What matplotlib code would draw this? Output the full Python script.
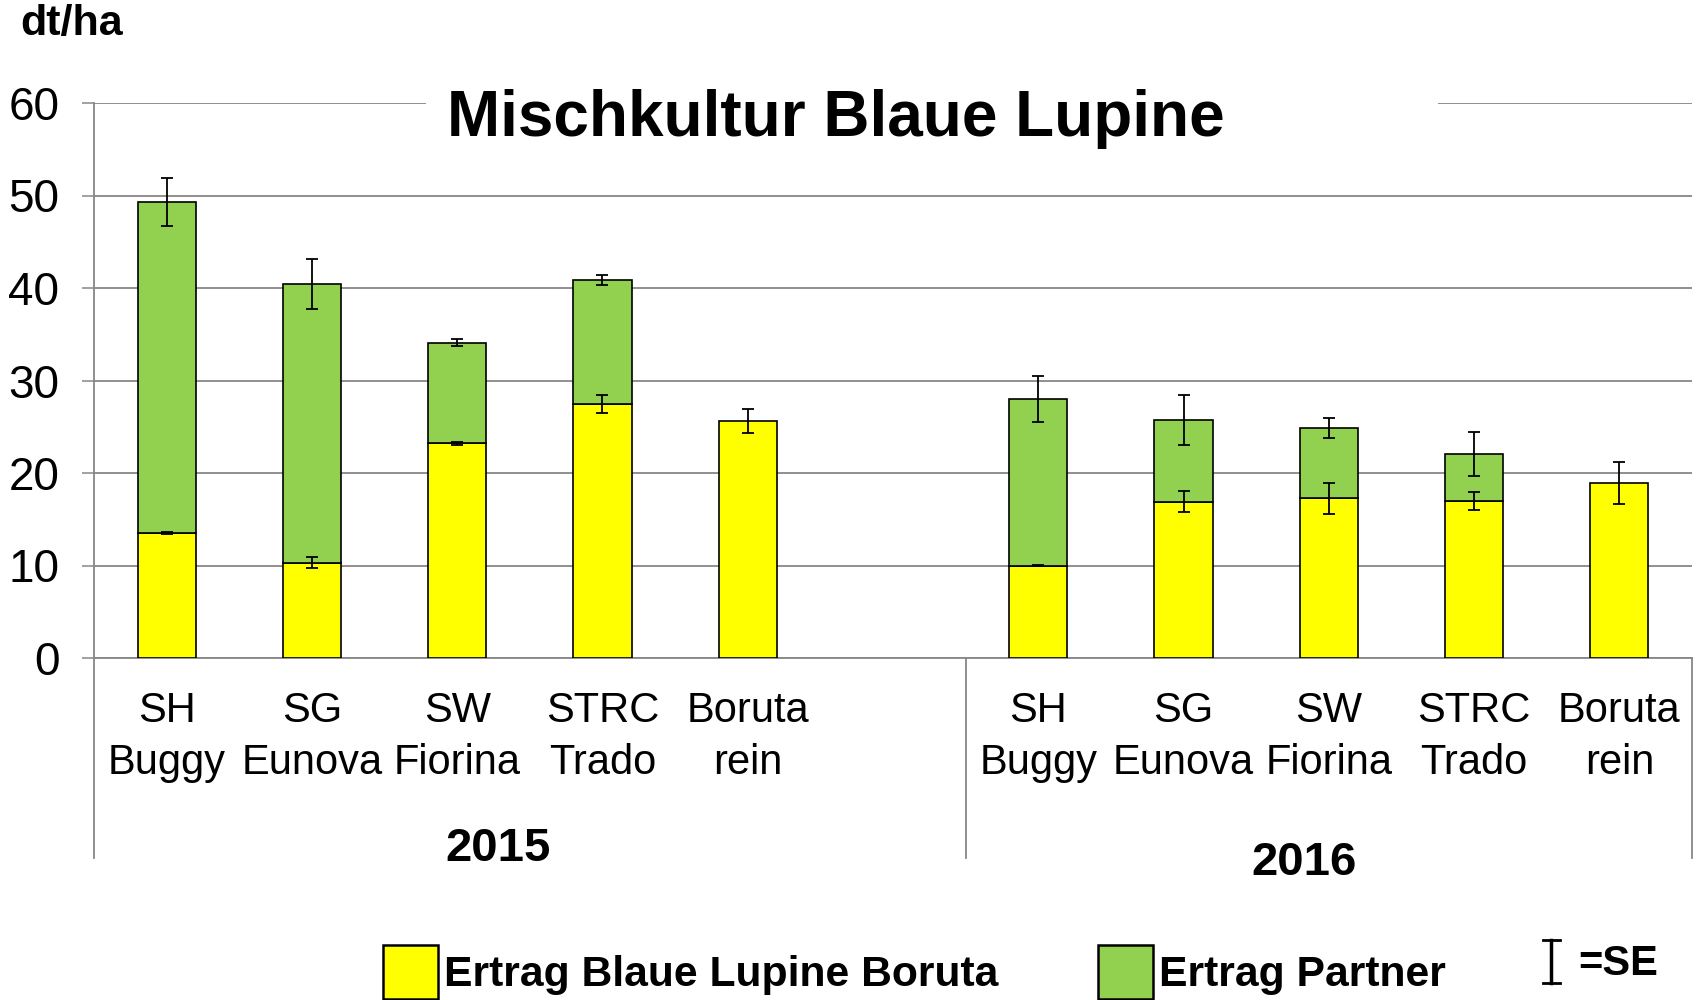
import numpy as np
import matplotlib
matplotlib.use("Agg")
import matplotlib.pyplot as plt
from matplotlib.patches import Rectangle
from matplotlib.lines import Line2D
import matplotlib.transforms as mtransforms

# ---------------------------------------
# Data (dt/ha)
# ---------------------------------------
categories = ["SH\nBuggy", "SG\nEunova", "SW\nFiorina", "STRC\nTrado", "Boruta\nrein"]
years = ["2015", "2016"]

lupine_2015 = [13.5, 10.3, 23.2, 27.45, 25.6]
partner_2015 = [35.8, 30.1, 10.9, 13.4, 0.0]
lupine_se_2015 = [0.12, 0.6, 0.2, 1.0, 1.3]
total_se_2015 = [2.6, 2.7, 0.4, 0.55, 0.0]

lupine_2016 = [10.0, 16.9, 17.25, 16.95, 18.95]
partner_2016 = [18.0, 8.8, 7.6, 5.1, 0.0]
lupine_se_2016 = [0.08, 1.15, 1.7, 0.95, 2.25]
total_se_2016 = [2.5, 2.7, 1.05, 2.4, 0.0]

yellow = "#FFFF00"
green = "#92D050"
grey = "#878787"

plt.rcParams["font.family"] = ["Liberation Sans", "DejaVu Sans"]

fig = plt.figure(figsize=(16.98, 10.0), dpi=100)
ax = fig.add_axes([94 / 1698, 0.342, 1598 / 1698, 0.555])

# positions: 2015 in slots 0-4, empty slot 5, 2016 in slots 6-10
x15 = np.arange(5)
x16 = np.arange(5) + 6
width = 0.4

for xs, lup, par, se_l, se_t in [
    (x15, lupine_2015, partner_2015, lupine_se_2015, total_se_2015),
    (x16, lupine_2016, partner_2016, lupine_se_2016, total_se_2016),
]:
    lup = np.array(lup)
    par = np.array(par)
    ax.bar(xs, lup, width, color=yellow, edgecolor="black", linewidth=1.2, zorder=3)
    m = par > 0
    ax.bar(xs[m], par[m], width, bottom=lup[m], color=green, edgecolor="black",
           linewidth=1.2, zorder=3)
    ax.errorbar(xs, lup, yerr=se_l, fmt="none", ecolor="black", elinewidth=1.3,
                capsize=4.5, capthick=1.3, zorder=4)
    tot = lup + par
    ax.errorbar(xs[m], tot[m], yerr=np.array(se_t)[m], fmt="none", ecolor="black",
                elinewidth=1.3, capsize=4.5, capthick=1.3, zorder=4)

ax.set_xlim(-0.5, 10.5)
ax.set_ylim(0, 60)
ax.set_yticks(np.arange(0, 61, 10))
ax.tick_params(axis="y", length=9, width=1.1, color=grey, labelsize=33, pad=16)
ax.set_xticks(list(x15) + list(x16))
ax.set_xticklabels(categories + categories, fontsize=30, linespacing=1.38)
ax.tick_params(axis="x", length=0, pad=24)

ax.yaxis.grid(True, color=grey, linewidth=1.3, zorder=0)
ax.set_axisbelow(True)
for s in ["top", "right"]:
    ax.spines[s].set_visible(False)
for s in ["left", "bottom"]:
    ax.spines[s].set_color(grey)
    ax.spines[s].set_linewidth(1.3)

# group separators below the axis
for xv in [-0.5, 5.5, 10.5]:
    ax.axvline(xv, ymin=-0.36, ymax=0, color=grey, linewidth=1.3, clip_on=False)

# year labels
trans = mtransforms.blended_transform_factory(ax.transData, ax.transAxes)
ax.text(2.28, -0.345, years[0], transform=trans, ha="center", va="center",
        fontsize=34, fontweight="bold")
ax.text(7.83, -0.37, years[1], transform=trans, ha="center", va="center",
        fontsize=34, fontweight="bold")

# title with white box over top gridline
fig.patches.append(Rectangle((426 / 1698, 1 - 130 / 1000), (1438 - 426) / 1698, 50 / 1000,
                             transform=fig.transFigure, facecolor="white",
                             edgecolor="none", zorder=5))
fig.text(447 / 1698, 1 - 119 / 1000, "Mischkultur Blaue Lupine", ha="left", va="center",
         fontsize=46, fontweight="bold", zorder=6)

fig.text(20 / 1698, 1 - 24 / 1000, "dt/ha", ha="left", va="center",
         fontsize=31, fontweight="bold")

# legend
handles = [Rectangle((0, 0), 1, 1, facecolor=yellow, edgecolor="black", linewidth=1.8),
           Rectangle((0, 0), 1, 1, facecolor=green, edgecolor="black", linewidth=1.8)]
fig.legend(handles, ["Ertrag Blaue Lupine Boruta", "Ertrag Partner"], ncol=2,
           loc="center left", bbox_to_anchor=(345 / 1698, 1 - 972 / 1000),
           frameon=False, prop={"size": 30.7, "weight": "bold"},
           handlelength=1.27, handleheight=1.6, handletextpad=0.15, columnspacing=2.35)

# SE symbol
fig.add_artist(Line2D([1551 / 1698, 1551 / 1698], [1 - 940 / 1000, 1 - 983 / 1000],
                      color="black", linewidth=2.5, transform=fig.transFigure))
for yy in [940, 983]:
    fig.add_artist(Line2D([1543 / 1698, 1560 / 1698], [1 - yy / 1000, 1 - yy / 1000],
                          color="black", linewidth=2.0, transform=fig.transFigure))
fig.text(1578 / 1698, 1 - 964 / 1000, "=SE", ha="left", va="center",
         fontsize=30, fontweight="bold")

fig.savefig("out.png", dpi=100)
